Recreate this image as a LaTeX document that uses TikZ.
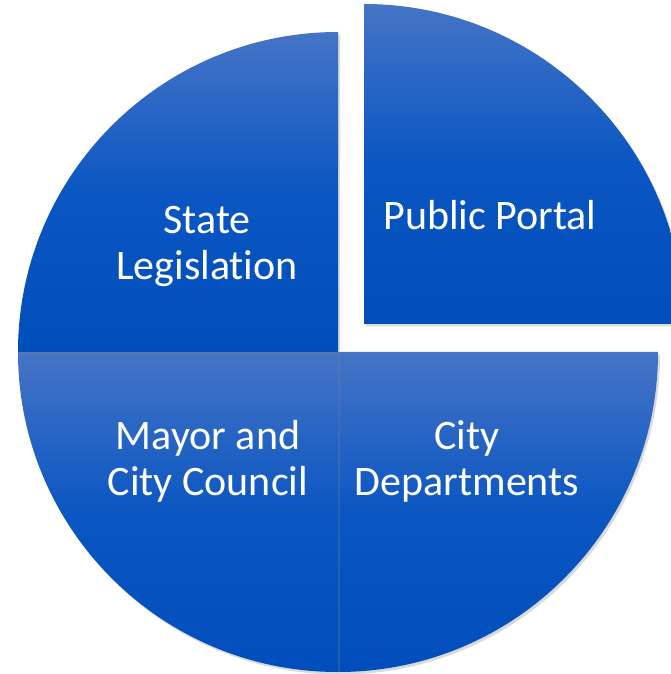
\documentclass[tikz,border=0pt]{standalone}
\usepackage{fontspec}
\setmainfont[Ligatures=NoCommon]{Carlito}
\usetikzlibrary{shadows}
\definecolor{pieTop}{RGB}{70,116,198}
\definecolor{pieMid}{RGB}{10,86,194}
\definecolor{pieBottom}{RGB}{0,78,188}
\begin{document}
\begin{tikzpicture}[x=1pt, y=1pt]

    % Styles
    \tikzstyle{slice} = [top color=pieTop, bottom color=pieBottom, middle color=pieMid, drop shadow={shadow xshift=2pt, shadow yshift=-2.5pt, opacity=0.3}]
    \tikzstyle{slicetext} = [text=white, align=center, font=\fontsize{42}{46}\selectfont]

    \useasboundingbox (-338,-322) rectangle (333,352);

    % Parts of the pie
    \path [slice] (0,0) -- (0,-320) arc (270:360:320pt) -- cycle;
    \path [slice] (0,0) -- (-320,0) arc (180:270:320pt) -- cycle;
    \path [slice] (0,0) -- (0,320) arc (90:180:320pt) -- cycle;
    \path [slice] (26,28) -- (346,28) arc (0:90:320pt) -- cycle;

    % Texts
    \node (state) [slicetext] at (-131,106) {State\\Legislation};
    \node (mayor) [slicetext] at (-130,-109) {Mayor and\\City Council};
    \node (depts) [slicetext] at (129,-109) {City\\Departments};
    \node (portal) [slicetext] at (152,136.5) {Public Portal};

\end{tikzpicture}
\end{document}
